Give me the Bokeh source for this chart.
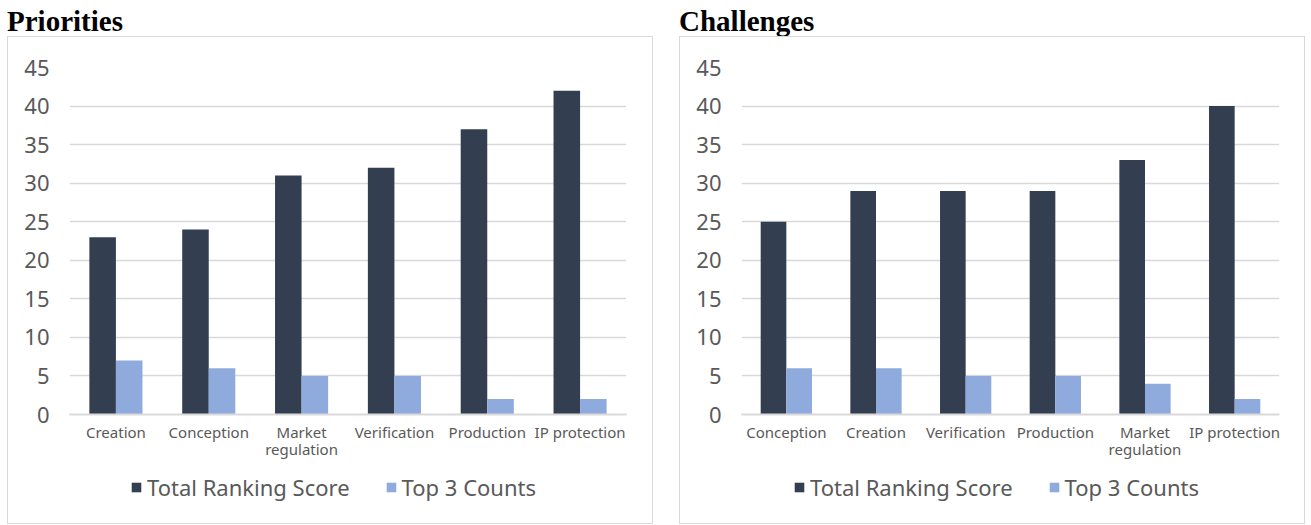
from bokeh.plotting import figure
from bokeh.models import (Legend, LegendItem, ColumnDataSource, FactorRange, Range1d,
                          FixedTicker, CategoricalAxis, Div)
from bokeh.transform import dodge
from bokeh.layouts import row, column
from bokeh.embed import file_html
from bokeh.resources import INLINE

# ---- data ----
pri_cats = ["Creation", "Conception", "Market\nregulation", "Verification", "Production", "IP protection"]
pri_total = [23, 24, 31, 32, 37, 42]
pri_top3 = [7, 6, 5, 5, 2, 2]

cha_cats = ["Conception", "Creation", "Verification", "Production", "Market\nregulation", "IP protection"]
cha_total = [25, 29, 29, 29, 33, 40]
cha_top3 = [6, 6, 5, 5, 4, 2]

series_names = ["Total Ranking Score", "Top 3 Counts"]
y_ticks = [0, 5, 10, 15, 20, 25, 30, 35, 40, 45]

DARK = "#333F50"
LIGHT = "#8FAADC"
GRID = "#D9D9D9"
TXT = "#595959"
FONT = "Noto Sans"
EDGE = "1.5px solid " + GRID


def make_panel(cats, total, top3, width, bl, br, legend_x):
    first = [c.split("\n")[0] for c in cats]
    second = [c.split("\n")[1] if "\n" in c else " " * (i + 1) for i, c in enumerate(cats)]
    src = ColumnDataSource(dict(cat=first, total=total, top3=top3))
    p = figure(x_range=FactorRange(*first), y_range=Range1d(0, 45),
               width=width, height=429, output_backend="svg", toolbar_location=None,
               min_border_left=bl, min_border_right=br, min_border_top=30,
               min_border_bottom=52, margin=0,
               styles={"border-left": EDGE, "border-right": EDGE, "border-top": EDGE,
                       "box-sizing": "border-box"})
    p.extra_x_ranges = {"line2": FactorRange(*second)}
    r1 = p.vbar(x=dodge("cat", -0.143, range=p.x_range), top="total", width=0.286,
                source=src, fill_color=DARK, line_color=None)
    r2 = p.vbar(x=dodge("cat", 0.143, range=p.x_range), top="top3", width=0.286,
                source=src, fill_color=LIGHT, line_color=None)

    p.outline_line_color = None
    p.xgrid.grid_line_color = None
    p.ygrid.grid_line_color = GRID
    p.ygrid.grid_line_width = 1.5
    p.ygrid.ticker = FixedTicker(ticks=y_ticks)

    p.yaxis.ticker = FixedTicker(ticks=y_ticks)
    p.yaxis.axis_line_color = None
    p.yaxis.major_tick_line_color = None
    p.yaxis.minor_tick_line_color = None
    p.yaxis.major_label_text_font = FONT
    p.yaxis.major_label_text_font_size = "22px"
    p.yaxis.major_label_text_color = TXT
    p.yaxis.major_label_standoff = 14

    p.xaxis.axis_line_color = GRID
    p.xaxis.axis_line_width = 2
    p.xaxis.major_tick_line_color = None
    p.xaxis.minor_tick_line_color = None
    p.xaxis.major_label_text_font = FONT
    p.xaxis.major_label_text_font_size = "15px"
    p.xaxis.major_label_text_color = TXT
    p.xaxis.major_label_standoff = 1

    ax2 = CategoricalAxis(x_range_name="line2", axis_line_color=None,
                          major_tick_line_color=None, minor_tick_line_color=None,
                          major_label_text_font=FONT, major_label_text_font_size="15px",
                          major_label_text_color=TXT, major_label_standoff=-12)
    p.add_layout(ax2, "below")

    # legend figure underneath (frame aligned with the chart frame above)
    lg = figure(width=width, height=59, output_backend="svg", toolbar_location=None,
                x_range=Range1d(0, 1), y_range=Range1d(0, 1), x_axis_type=None,
                y_axis_type=None, min_border=0, margin=0,
                styles={"border-left": EDGE, "border-right": EDGE, "border-bottom": EDGE,
                        "box-sizing": "border-box"})
    lg.outline_line_color = None
    lg.grid.visible = False
    flat = ColumnDataSource(dict(x=[0.5], top=[0]))  # zero-height swatch source
    g1 = lg.vbar(x="x", top="top", width=0.1, source=flat, fill_color=DARK, line_color=None)
    g2 = lg.vbar(x="x", top="top", width=0.1, source=flat, fill_color=LIGHT, line_color=None)
    legend = Legend(items=[LegendItem(label=series_names[0], renderers=[g1]),
                           LegendItem(label=series_names[1], renderers=[g2])],
                    orientation="horizontal", location=(legend_x, 22),
                    glyph_width=12, glyph_height=12, label_standoff=5, spacing=35,
                    label_text_font=FONT, label_text_font_size="22px",
                    label_text_color=TXT, border_line_color=None,
                    background_fill_alpha=0, padding=0, margin=0)
    lg.add_layout(legend, "center")
    return column(p, lg, spacing=0)


def make_title(text, left):
    return Div(text='<div style="position:relative;top:3px">' + text + '</div>',
               width=300, height=36, margin=(0, 0, 0, left),
               styles={"font-family": "Liberation Serif", "font-size": "29px",
                       "font-weight": "bold", "color": "black", "line-height": "36px",
                       "white-space": "nowrap"})


box1 = make_panel(pri_cats, pri_total, pri_top3, 646, 61, 28, 61)
box1.margin = (0, 0, 0, 7)
box2 = make_panel(cha_cats, cha_total, cha_top3, 626, 61, 27, 52)
box2.margin = (0, 0, 0, 19)

col1 = column(make_title("Priorities", 7), box1, spacing=0, width=660)
col2 = column(make_title("Challenges", 19), box2, spacing=0, width=651)
layout = row(col1, col2, spacing=0)
open("out.html", "w").write(file_html(layout, INLINE))
